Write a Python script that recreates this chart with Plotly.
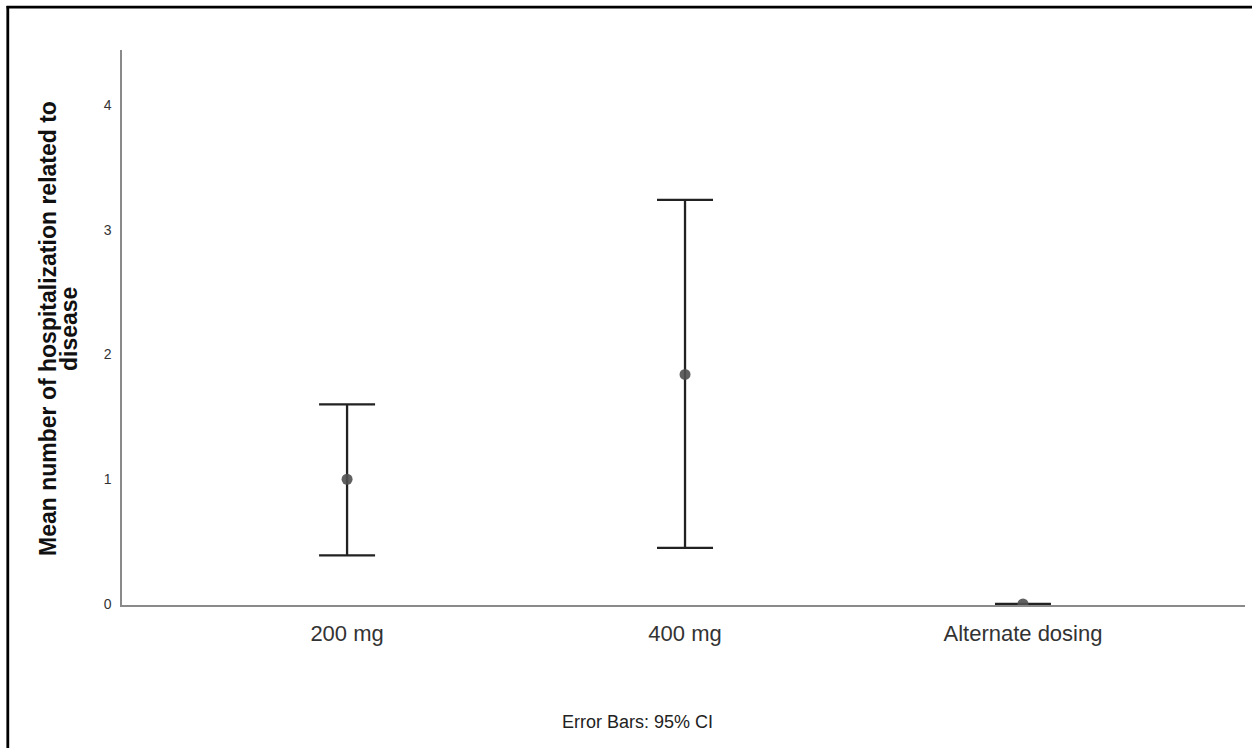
import plotly.graph_objects as go

categories = ["200 mg", "400 mg", "Alternate dosing"]
means = [1.0, 1.84, 0.0]
ci_upper = [1.60, 3.24, 0.0]
ci_lower = [0.39, 0.45, 0.0]
y_ticks = [0, 1, 2, 3, 4]

err_plus = [u - m for u, m in zip(ci_upper, means)]
err_minus = [m - l for m, l in zip(means, ci_lower)]

fig = go.Figure()
fig.add_trace(go.Scatter(
    x=categories, y=means, mode="markers",
    marker=dict(size=11, color="rgba(80,80,80,0.9)"),
    error_y=dict(type="data", array=err_plus, arrayminus=err_minus,
                 symmetric=False, color="#222", thickness=2.3, width=28),
    cliponaxis=True,
    showlegend=False, hoverinfo="x+y",
))

W, H = 1252, 748
L, R, T, B = 122, 7, 50, 143
pw, ph = W - L - R, H - T - B

def px_x(x):
    return (x - L) / pw

def px_y(y):
    return (H - B - y) / ph

FONT = "Arial, Liberation Sans, sans-serif"

fig.update_layout(
    width=W, height=H,
    margin=dict(l=L, r=R, t=T, b=B),
    paper_bgcolor="white", plot_bgcolor="white",
    font=dict(family=FONT, color="#222"),
    xaxis=dict(
        type="category", range=[-0.666, 2.657],
        showline=True, linecolor="#8a8a8a", linewidth=1.5,
        showgrid=False, zeroline=False, layer="below traces",
        ticks="outside", ticklen=8, tickcolor="rgba(0,0,0,0)",
        tickfont=dict(size=22, color="#333", family=FONT),
    ),
    yaxis=dict(
        range=[-0.008, 4.441], tickvals=y_ticks,
        showline=True, linecolor="#8a8a8a", linewidth=1.5,
        showgrid=False, zeroline=False, layer="below traces",
        ticks="outside", ticklen=6, tickcolor="rgba(0,0,0,0)",
        tickfont=dict(size=14, color="#333", family=FONT),
    ),
    annotations=[
        dict(text="<b>Mean number of hospitalization related to</b>",
             xref="paper", yref="paper", x=px_x(48), y=px_y(329),
             textangle=-90, showarrow=False, font=dict(size=23, color="#111", family=FONT),
             xanchor="center", yanchor="middle"),
        dict(text="<b>disease</b>",
             xref="paper", yref="paper", x=px_x(69), y=px_y(329),
             textangle=-90, showarrow=False, font=dict(size=23, color="#111", family=FONT),
             xanchor="center", yanchor="middle"),
        dict(text="Error Bars: 95% CI", xref="paper", yref="paper",
             x=px_x(637), y=px_y(722), showarrow=False,
             font=dict(size=18, color="#222", family=FONT), xanchor="center", yanchor="middle"),
    ],
    shapes=[
        dict(type="line", xref="paper", yref="paper",
             x0=px_x(7.8), x1=px_x(7.8), y0=px_y(6), y1=px_y(760),
             line=dict(color="black", width=2.8)),
        dict(type="line", xref="paper", yref="paper",
             x0=px_x(6.5), x1=px_x(1260), y0=px_y(7.2), y1=px_y(7.2),
             line=dict(color="black", width=2.8)),
    ],
)

fig.write_html("out.html", config={"displayModeBar": False},
               post_script="document.body.style.margin='0';")
